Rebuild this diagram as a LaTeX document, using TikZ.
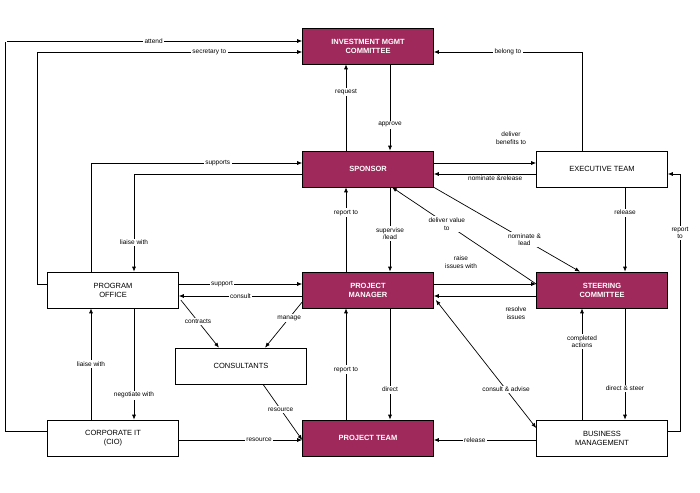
\documentclass[tikz,border=0pt]{standalone}
\usepackage{fontspec}
\setmainfont{Liberation Sans}
\usetikzlibrary{arrows.meta}
\definecolor{maroon}{RGB}{160,41,92}
\begin{document}
\begin{tikzpicture}[x=1pt,y=-1pt,
  box/.style={draw=black,line width=0.6pt,minimum width=131pt,minimum height=36pt,align=center,font=\fontsize{7.5}{9}\selectfont,fill=white},
  hot/.style={box,fill=maroon,text=white,font=\fontsize{7.5}{9}\selectfont\bfseries},
  ar/.style={-{Latex[length=5pt,width=4pt]},line width=0.7pt},
  lb/.style={fill=white,inner sep=1.5pt,align=center,font=\fontsize{6.5}{7.5}\selectfont}]
\useasboundingbox (0,0) rectangle (700,492);
\node[hot] (imc) at (368,46) {INVESTMENT MGMT\\COMMITTEE};
\node[hot] (spon) at (368,169) {SPONSOR};
\node[box] (exec) at (602,169) {EXECUTIVE TEAM};
\node[box] (po) at (113,290) {PROGRAM\\OFFICE};
\node[hot] (pm) at (368,290) {PROJECT\\MANAGER};
\node[hot] (sc) at (602,290) {STEERING\\COMMITTEE};
\node[box] (cons) at (241,366) {CONSULTANTS};
\node[box] (cit) at (113,438) {CORPORATE IT\\(CIO)};
\node[hot] (pt) at (368,438) {PROJECT TEAM};
\node[box] (bm) at (602,438) {BUSINESS\\MANAGEMENT};
% outer loops
\draw[ar] ([yshift=7pt]cit.west) -- (5,431) -- (5,41) node[lb,pos=0.5,at end,xshift=0pt] {} -- ([yshift=5pt]imc.west) node[lb,pos=0.5] {attend};
\draw[ar] ([yshift=6pt]po.west) -- (37,284) -- (37,52) -- ([yshift=-6pt]imc.west) node[lb,pos=0.65] {secretary to};
\draw[ar] ([xshift=-20pt]exec.north) -- (582,52) -- ([yshift=-6pt]imc.east) node[lb,pos=0.5] {belong to};
\draw[ar] ([yshift=7pt]bm.east) -- (680,431) -- (680,174) node[lb,pos=0.77] {report\\to} -- ([yshift=-5pt]exec.east);
% sponsor/imc
\draw[ar] ([xshift=-22pt]spon.north) -- ([xshift=-22pt]imc.south) node[lb,pos=0.68] {request};
\draw[ar] ([xshift=22pt]imc.south) -- ([xshift=22pt]spon.north) node[lb,pos=0.7] {approve};
\draw[ar] ([yshift=6pt]spon.east) -- ([yshift=6pt]exec.west);
\node[lb,fill=none] (dbt) at (511,138) {deliver\\benefits to};
\draw[ar] ([yshift=-5pt]exec.west) -- ([yshift=-5pt]spon.east) node[lb,pos=0.4,below=0pt,fill=none] {nominate \&release};
\draw[ar] ([xshift=-22pt]po.north) -- (91,163) -- ([yshift=6pt]spon.west) node[lb,pos=0.6] {supports};
\draw[ar] ([yshift=-5pt]spon.west) -- (134,174) -- ([xshift=21pt]po.north) node[lb,pos=0.7] {liaise with};
\draw[ar] ([xshift=-22pt]pm.north) -- ([xshift=-22pt]spon.south) node[lb,pos=0.7] {report to};
\draw[ar] ([xshift=22pt]spon.south) -- ([xshift=22pt]pm.north) node[lb,pos=0.55] {supervise\\/lead};
\draw[ar] ([yshift=6pt]sc.west) -- ([xshift=24pt]spon.south) node[lb,pos=0.62] {deliver value\\to};
\draw[ar] (spon.south east) -- ([xshift=-22pt]sc.north) node[lb,pos=0.62] {nominate \&\\lead};
\draw[ar] ([xshift=23pt]exec.south) -- ([xshift=23pt]sc.north) node[lb,pos=0.3] {release};
% middle row
\draw[ar] ([yshift=6pt]pm.east) -- ([yshift=6pt]sc.west);
\node[lb,fill=none] (ri) at (461,262) {raise\\issues with};
\draw[ar] ([yshift=-6pt]sc.west) -- ([yshift=-6pt]pm.east);
\node[lb,fill=none] (rs) at (516,313) {resolve\\issues};
\draw[ar] ([yshift=6pt]po.east) -- ([yshift=6pt]pm.west) node[lb,pos=0.35] {support};
\draw[ar] ([yshift=-6pt]pm.west) -- ([yshift=-6pt]po.east) node[lb,pos=0.5] {consult};
\draw[ar] ([xshift=2pt,yshift=-10pt]po.east) -- ([xshift=-22pt]cons.north) node[lb,pos=0.45] {contracts};
\draw[ar] ([yshift=-12pt]pm.west) -- ([xshift=24pt]cons.north) node[lb,pos=0.35] {manage};
\draw[ar] ([xshift=-22pt]pt.north) -- ([xshift=-22pt]pm.south) node[lb,pos=0.45] {report to};
\draw[ar] ([xshift=22pt]pm.south) -- ([xshift=22pt]pt.north) node[lb,pos=0.73] {direct};
\draw[{Latex[length=5pt,width=4pt]}-{Latex[length=5pt,width=4pt]},line width=0.7pt] ([xshift=2pt,yshift=-10pt]pm.east) -- ([yshift=10pt]bm.west) node[lb,pos=0.7] {consult \& advise};
\draw[ar] ([xshift=-20pt]bm.north) -- ([xshift=-20pt]sc.south) node[lb,pos=0.7] {completed\\actions};
\draw[ar] ([xshift=23pt]sc.south) -- ([xshift=23pt]bm.north) node[lb,pos=0.72] {direct \& steer};
\draw[ar] ([xshift=21pt]po.south) -- ([xshift=21pt]cit.north) node[lb,pos=0.78] {negotiate with};
\draw[ar] ([xshift=-22pt]cit.north) -- ([xshift=-22pt]po.south) node[lb,pos=0.5] {liaise with};
% bottom
\draw[ar] ([xshift=22pt]cons.south) -- ([yshift=-2pt]pt.west) node[lb,pos=0.45] {resource};
\draw[ar] ([yshift=-2pt]cit.east) -- ([yshift=-2pt]pt.west) node[lb,pos=0.65] {resource};
\draw[ar] ([yshift=-2pt]bm.west) -- ([yshift=-2pt]pt.east) node[lb,pos=0.6] {release};
\end{tikzpicture}
\end{document}
